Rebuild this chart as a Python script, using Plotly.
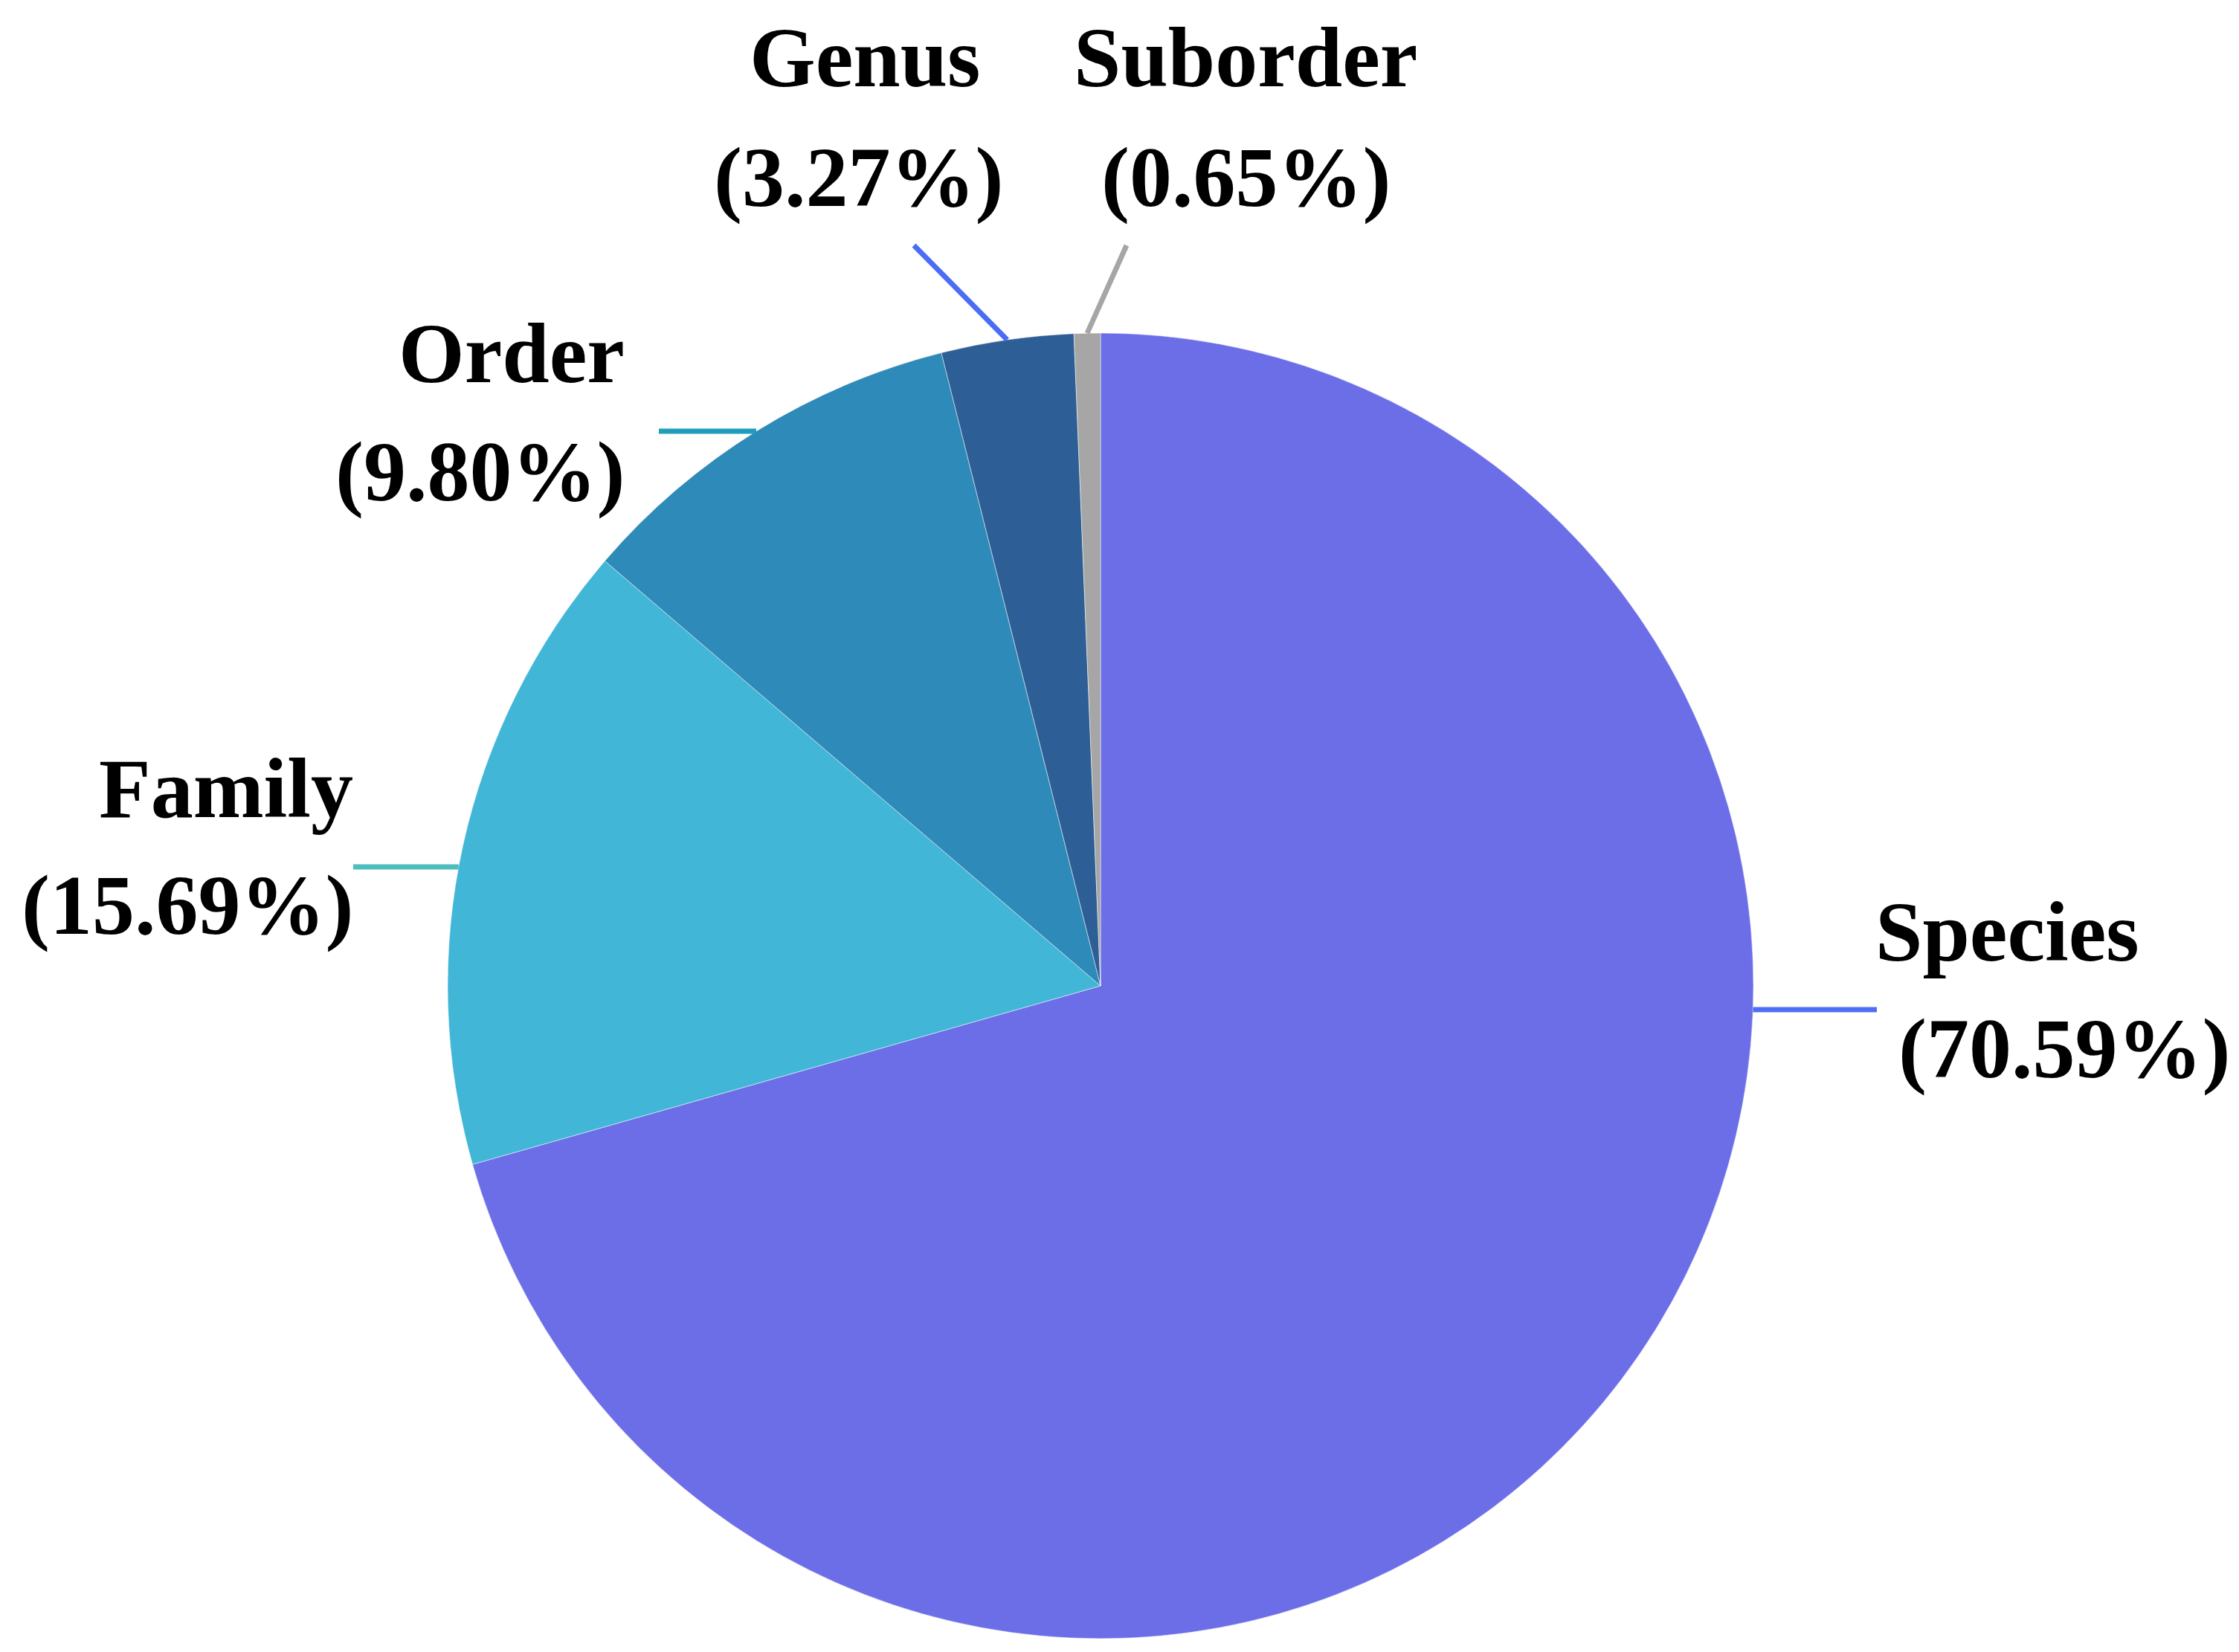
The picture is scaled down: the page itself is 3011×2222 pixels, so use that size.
import math
import plotly.graph_objects as go

# data
labels = ["Species", "Family", "Order", "Genus", "Suborder"]
percents = [70.59, 15.69, 9.80, 3.27, 0.65]

slice_colors = ["#6C6EE8", "#42B6D6", "#2E8AB8", "#2E5E96", "#A6A6A6"]
leader_colors = ["#4F6EF5", "#4DBDBD", "#1E9EBB", "#4A6CF7", "#A6A6A6"]

W, H = 3011, 2222
CX, CY, R = 1472, 1318, 878   # pie centre / radius in pixels

# label placement (pixels): xanchor, x of name, x of pct, y of name, y of pct
label_pos = {
    "Species": ("left", 2512, 2543, 1245, 1402),
    "Family": ("right", 469, 469, 1052, 1209),
    "Order": ("right", 834, 834, 468, 626),
    "Genus": ("center", 1155, 1146, 70, 230),
    "Suborder": ("center", 1667, 1667, 70, 230),
}
# leader lines: outer end (pixels), and how they meet the pie
leader_pos = {
    "Species": ((2516, 1350), "h"),
    "Family": ((467, 1158), "h"),
    "Order": ((878, 572), "h"),
    "Genus": ((1221, 322), "mid"),
    "Suborder": ((1507, 322), "mid"),
}

FONT = "Liberation Serif, Times New Roman, serif"


def px(x):
    return x / W


def py(y):
    return 1 - y / H


fig = go.Figure()
fig.add_trace(go.Pie(
    labels=labels,
    values=percents,
    sort=False,
    direction="clockwise",
    rotation=0,
    textinfo="none",
    hoverinfo="label+percent",
    marker=dict(colors=slice_colors, line=dict(color="white", width=0.5)),
    domain=dict(x=[px(CX - R), px(CX + R)], y=[py(CY + R), py(CY - R)]),
    showlegend=False,
))

total = sum(percents)
cum = 0
shapes = []
annotations = []
for i, name in enumerate(labels):
    mid = (cum + percents[i] / 2) / total
    cum += percents[i]

    (ox, oy), kind = leader_pos[name]
    if kind == "h":
        dx = math.sqrt(R ** 2 - (oy - CY) ** 2)
        ex = CX + dx if ox > CX else CX - dx
        ey = oy
    else:
        th = mid * 2 * math.pi
        ex = CX + R * math.sin(th)
        ey = CY - R * math.cos(th)
    shapes.append(dict(type="line", xref="paper", yref="paper",
                       x0=px(ox), y0=py(oy), x1=px(ex), y1=py(ey),
                       line=dict(color=leader_colors[i], width=7)))

    anchor, xn, xp, yn, yp = label_pos[name]
    for txt, xx, yy in [(name, xn, yn), (f"({percents[i]:.2f}%)", xp, yp)]:
        annotations.append(dict(
            text=f"<b>{txt}</b>", xref="paper", yref="paper",
            x=px(xx), y=py(yy), xanchor=anchor, yanchor="middle",
            showarrow=False, align=anchor,
            font=dict(family=FONT, size=114, color="black"),
        ))

fig.update_layout(
    width=W, height=H,
    margin=dict(l=0, r=0, t=0, b=0),
    paper_bgcolor="white",
    plot_bgcolor="white",
    shapes=shapes,
    annotations=annotations,
)

fig.write_html("out.html")
